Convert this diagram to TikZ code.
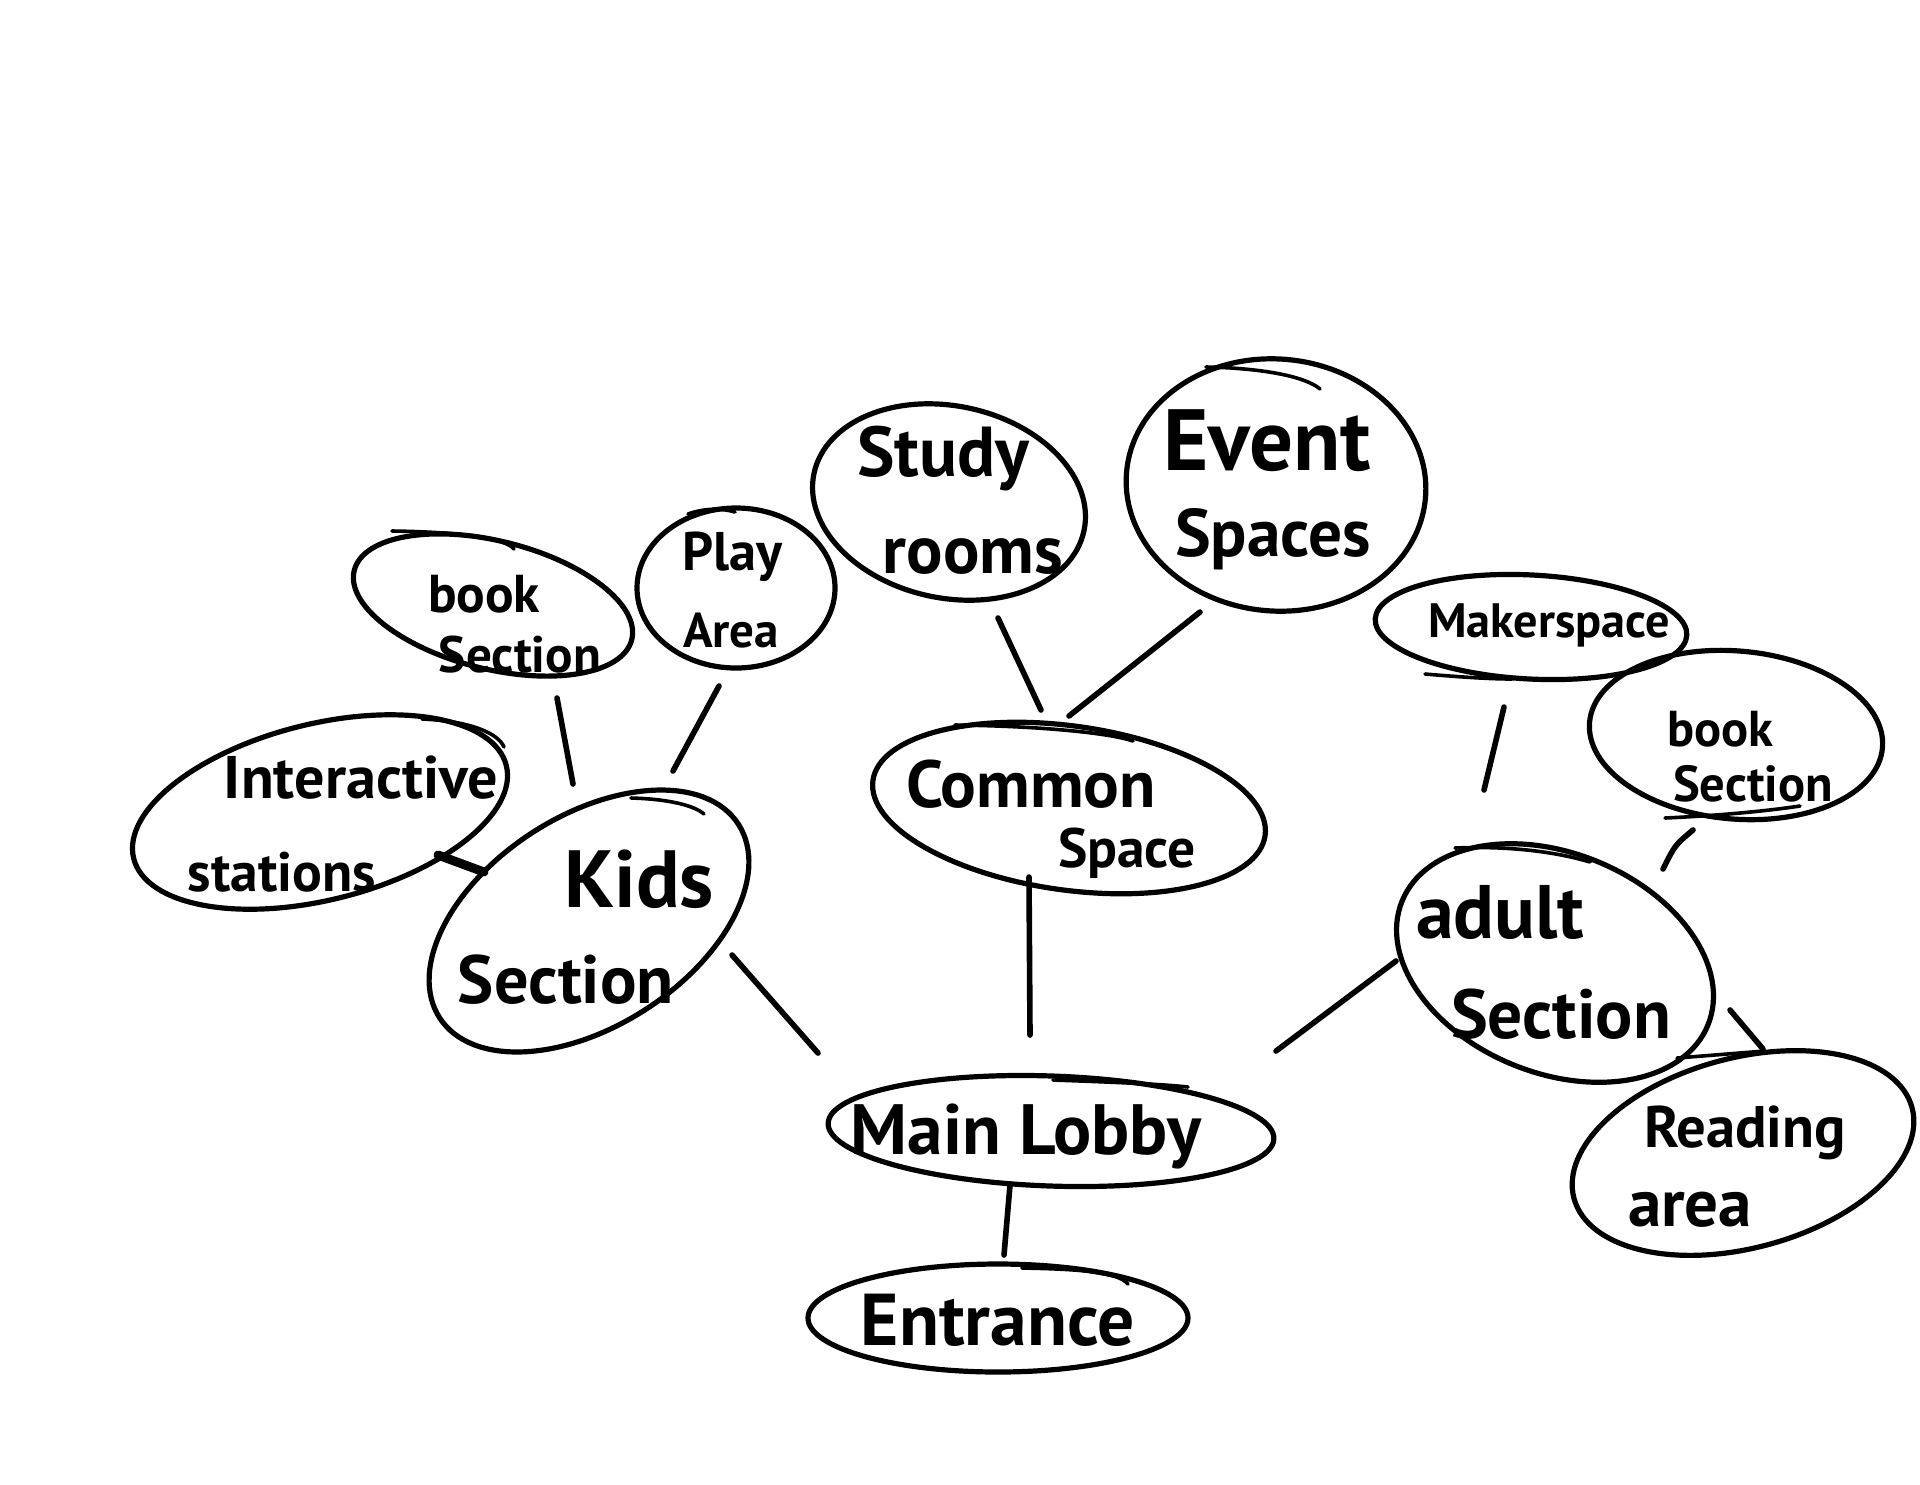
\documentclass[tikz,border=0pt]{standalone}
\usepackage{fontspec}
\setmainfont{PT Sans}
\usepackage{graphicx}
\usetikzlibrary{shapes.geometric}
\newcommand\fw[2]{\resizebox{#1pt}{!}{\bfseries #2}}
\begin{document}
\begin{tikzpicture}[x=0.5pt,y=-0.5pt,
  bub/.style={draw, ellipse, line width=2.6pt, inner sep=0pt},
  link/.style={line width=2.8pt, line cap=round},
  tail/.style={line width=1.8pt, line cap=round},
  lbl/.style={inner sep=0pt}]
\fill[white] (0,0) rectangle (1920,1484);
\useasboundingbox (0,0) rectangle (1920,1484);

% bubbles
\node[bub, minimum width=223pt, minimum height=55pt, rotate=-2] (lobby) at (1051,1131) {};
\node[bub, minimum width=190pt, minimum height=54pt] (entrance) at (998,1318) {};
\node[bub, minimum width=198pt, minimum height=82pt, rotate=-8] (common) at (1069,808) {};
\node[bub, minimum width=138pt, minimum height=96pt, rotate=-12] (study) at (949,502) {};
\node[bub, minimum width=150pt, minimum height=126pt, rotate=-5] (event) at (1276,485) {};
\node[bub, minimum width=178pt, minimum height=105pt, rotate=33] (kids) at (589,921) {};
\node[bub, minimum width=143pt, minimum height=64pt, rotate=-14] (bookL) at (493,605) {};
\node[bub, minimum width=99pt, minimum height=80pt] (play) at (736,588) {};
\node[bub, minimum width=192pt, minimum height=88pt, rotate=14] (inter) at (320,812) {};
\node[bub, minimum width=165pt, minimum height=110pt, rotate=-22] (adult) at (1555,963) {};
\node[bub, minimum width=156pt, minimum height=52pt, rotate=-3] (maker) at (1531,627) {};
\node[bub, minimum width=147pt, minimum height=84pt, rotate=-5] (bookR) at (1736,735) {};
\node[bub, minimum width=175pt, minimum height=95pt, rotate=15] (reading) at (1743,1153) {};

% hand-drawn overshoot strokes
\draw[tail] (392,531) .. controls (460,532) and (505,538) .. (514,549);
\draw[tail] (422,719) .. controls (470,721) and (498,733) .. (504,747);
\draw[tail] (631,798) .. controls (670,799) and (695,806) .. (704,814);
\draw[tail] (955,725) .. controls (1040,726) and (1110,733) .. (1133,741);
\draw[tail] (1053,1080) .. controls (1110,1082) and (1160,1084) .. (1188,1087);
\draw[tail] (1022,1268) .. controls (1080,1269) and (1118,1272) .. (1128,1284);
\draw[tail] (1206,367) .. controls (1260,368) and (1305,376) .. (1320,389);
\draw[tail] (688,514) .. controls (705,508) and (722,508) .. (735,512);
\draw[tail] (1425,674) .. controls (1460,677) and (1490,679) .. (1512,679);
\draw[tail] (1665,818) .. controls (1710,816) and (1760,812) .. (1800,806);
\draw[tail] (1455,848) .. controls (1500,846) and (1550,850) .. (1590,862);
\draw[tail] (1677,1058) -- (1765,1051);

% texts
\node[lbl] (studyA) at (943,459) {\fw{86}{Study}};
\node[lbl] (studyB) at (973,557) {\fw{90}{rooms}};
\node[lbl] (eventA) at (1267,441) {\fw{104}{Event}};
\node[lbl] (eventB) at (1273,539) {\fw{98}{Spaces}};
\node[lbl] (playA) at (732,557) {\fw{50}{Play}};
\node[lbl] (playB) at (731,631) {\fw{48}{Area}};
\node[lbl] (bookLA) at (484,594) {\fw{56}{book}};
\node[lbl] (bookLB) at (520,655) {\fw{81}{Section}};
\node[lbl] (interA) at (361,778) {\fw{137}{Interactive}};
\node[lbl] (interB) at (282,872) {\fw{94}{stations}};
\node[lbl] (kidsA) at (639,879) {\fw{75}{Kids}};
\node[lbl] (kidsB) at (566,980) {\fw{108}{Section}};
\node[lbl] (commonA) at (1031,784) {\fw{125}{Common}};
\node[lbl] (commonB) at (1127,853) {\fw{69}{Space}};
\node[lbl] (lobbyT) at (1026,1136) {\fw{175}{Main Lobby}};
\node[lbl] (entranceT) at (998,1320) {\fw{137}{Entrance}};
\node[lbl] (makerT) at (1549,625) {\fw{121}{Makerspace}};
\node[lbl] (bookRA) at (1720,729) {\fw{53}{book}};
\node[lbl] (bookRB) at (1753,784) {\fw{80}{Section}};
\node[lbl] (adultA) at (1500,912) {\fw{84}{adult}};
\node[lbl] (adultB) at (1561,1014) {\fw{110}{Section}};
\node[lbl] (readingA) at (1745,1133) {\fw{101}{Reading}};
\node[lbl] (readingB) at (1690,1210) {\fw{62}{area}};

% connector end points
\coordinate (l1a) at (1010,1185); \coordinate (l1b) at (1004,1255);
\coordinate (l2a) at (1029,877);  \coordinate (l2b) at (1030,1035);
\coordinate (l3a) at (732,955);   \coordinate (l3b) at (818,1053);
\coordinate (l4a) at (1396,961);  \coordinate (l4b) at (1276,1051);
\coordinate (l5a) at (998,618);   \coordinate (l5b) at (1041,710);
\coordinate (l6a) at (1200,612);  \coordinate (l6b) at (1069,716);
\coordinate (l7a) at (557,698);   \coordinate (l7b) at (573,784);
\coordinate (l8a) at (719,686);   \coordinate (l8b) at (673,771);
\coordinate (l9a) at (438,855);   \coordinate (l9b) at (484,872);
\coordinate (l10a) at (1504,707); \coordinate (l10b) at (1484,790);
\coordinate (l11a) at (1693,830); \coordinate (l11b) at (1663,869);
\coordinate (l12a) at (1730,1010); \coordinate (l12b) at (1763,1049);

\draw[link] (l1a) -- (l1b);
\draw[link] (l2a) -- (l2b);
\draw[link] (l3a) -- (l3b);
\draw[link] (l4a) -- (l4b);
\draw[link] (l5a) -- (l5b);
\draw[link] (l6a) -- (l6b);
\draw[link] (l7a) -- (l7b);
\draw[link] (l8a) -- (l8b);
\draw[link, line width=4.5pt] (l9a) -- (l9b);
\draw[link] (l10a) -- (l10b);
\draw[link] (l11a) .. controls (1675,845) .. (l11b);
\draw[link] (l12a) -- (l12b);
\end{tikzpicture}
\end{document}
